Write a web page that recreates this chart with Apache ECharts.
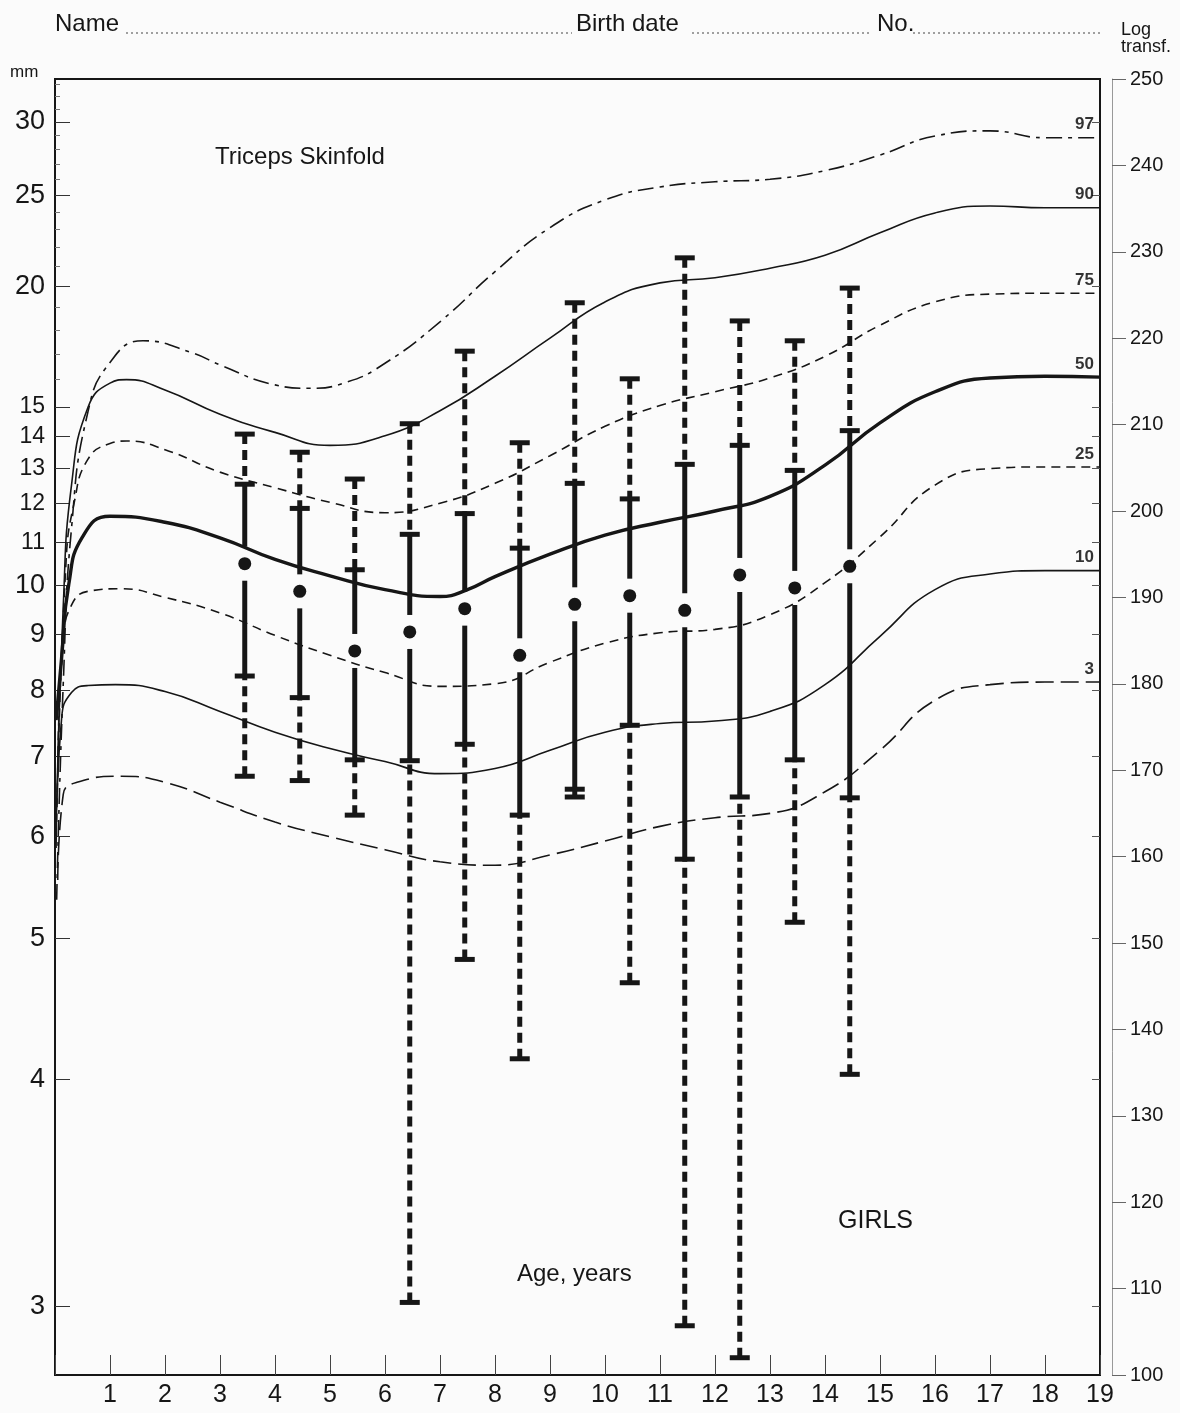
<!DOCTYPE html>
<html>
<head>
<meta charset="utf-8">
<script src="https://cdn.jsdelivr.net/npm/echarts@6.0.0/dist/echarts.min.js"></script>
<style>
  html, body { margin: 0; padding: 0; background: #fbfbfb; }
  #chart { width: 1180px; height: 1413px; }
</style>
</head>
<body>
<div id="chart"></div>
<script>
// ---- Data (values in "Log transf." units: 100 + 100*log10(mm - 1.8)) ----
const mmTicks = [3, 4, 5, 6, 7, 8, 9, 10, 11, 12, 13, 14, 15, 20, 25, 30];
const mmMinorTicks = [16, 17, 18, 19, 21, 22, 23, 24, 26, 27, 28, 29, 31, 32, 33];
const ageLabels = [1, 2, 3, 4, 5, 6, 7, 8, 9, 10, 11, 12, 13, 14, 15, 16, 17, 18, 19];
const pctNames = ['97', '90', '75', '50', '25', '10', '3'];

const p97 = [[0.03,155],[0.15,180],[0.3,198],[0.6,211.5],[1,217.2],[1.6,219.7],[2.5,218.3],[3,216.9],[4,214.6],[4.6,214.2],[5.3,214.9],[6,217.1],[7,221.9],[8,227.7],[9,232.8],[10,236],[11,237.5],[12,238.1],[13,238.4],[14,239.4],[15,241.2],[16,243.4],[17,244],[18,243.2],[19,243.2]];
const p90 = [[0.03,166],[0.15,189],[0.3,203],[0.6,212],[1,214.8],[1.3,215.2],[2,214],[3,211.2],[4,209.1],[5,207.6],[6,208.7],[7,211.6],[8,215.6],[9,220],[10,224.2],[11,226.4],[12,227],[13,228.1],[14,229.6],[15,232.2],[16,234.5],[17,235.3],[18,235.1],[19,235.1]];
const p75 = [[0.03,164],[0.2,194],[0.35,201],[0.6,206],[1,207.8],[1.3,208.1],[2,207.1],[3,204.5],[4,202.7],[5,201],[6,199.8],[7,200.9],[8,203.2],[9,206.4],[10,209.8],[11,212.2],[12,213.8],[13,215.4],[14,217.9],[15,221.5],[16,224.2],[17,225.1],[18,225.2],[19,225.2]];
const p50 = [[0.02,175.8],[0.12,183],[0.25,191.5],[0.5,197],[1,199.4],[2,198.7],[3,196.9],[4,194.4],[5,192.5],[6,190.9],[7,190.1],[7.5,190.9],[8,192.4],[9,195],[10,197.2],[11,198.7],[12,200],[13,201.7],[14,205.3],[15,210.2],[16,213.8],[17,215.4],[18,215.6],[19,215.5]];
const p25 = [[0.05,170],[0.15,185],[0.3,189.1],[0.6,190.7],[1.2,191],[2,190],[3,188.2],[4,185.6],[5,183.3],[6,181.3],[7,179.7],[8,180],[9,182.5],[10,184.7],[11,185.9],[12,186.3],[13,188],[14,191.7],[15,197],[16,203],[17,204.9],[18,205.1],[19,205.1]];
const p10 = [[0.02,161],[0.12,176],[0.3,179],[0.6,179.8],[1.1,179.9],[2,179.1],[3,176.8],[4,174.4],[5,172.5],[6,171],[7,169.6],[8,170.2],[9,172.3],[10,174.4],[11,175.4],[12,175.7],[13,176.8],[14,179.9],[15,185.5],[16,190.9],[17,192.7],[18,193.1],[19,193.1]];
const p3 = [[0.05,157.3],[0.15,167.2],[0.4,168.6],[1.2,169.3],[2,168.6],[3,166.3],[4,164],[5,162.3],[6,160.8],[7,159.4],[8,159],[9,160.2],[10,161.8],[11,163.5],[12,164.5],[13,165],[14,167.5],[15,172.3],[16,178.1],[17,179.9],[18,180.2],[19,180.2]];

const barAges   = [3.45, 4.45, 5.45, 6.45, 7.45, 8.45, 9.45, 10.45, 11.45, 12.45, 13.45, 14.45];
const outerHigh = [208.9, 206.8, 203.7, 210.1, 218.5, 207.9, 224.1, 215.3, 229.3, 222.0, 219.7, 225.8];
const innerHigh = [203.1, 200.3, 193.2, 197.3, 199.7, 195.7, 203.2, 201.4, 205.4, 207.6, 204.7, 209.3];
const centre    = [193.9, 190.7, 183.8, 186.0, 188.7, 183.3, 189.2, 190.2, 188.5, 192.6, 191.1, 193.6];
const innerLow  = [180.9, 178.4, 171.2, 171.1, 173.0, 164.8, 167.8, 175.2, 159.7, 166.9, 171.2, 166.8];
const outerLow  = [169.3, 168.8, 164.8, 108.4, 148.1, 136.6, 166.9, 145.4, 105.7, 102.0, 152.4, 134.8];

// ---- helpers ----
const toT = mm => 100 + 100 * Math.log10(mm - 1.8);
const toMM = t => 1.8 + Math.pow(10, (t - 100) / 100);
const FONT = '"Liberation Sans", Arial, Helvetica, sans-serif';
const INK = '#161616';

const curves = [p97, p90, p75, p50, p25, p10, p3];
const curveStyles = [
  { width: 1.6, dash: [16, 6, 4, 6] },
  { width: 1.6, dash: 'solid' },
  { width: 1.6, dash: [9, 6] },
  { width: 3.4, dash: 'solid' },
  { width: 1.6, dash: [9, 6] },
  { width: 1.6, dash: 'solid' },
  { width: 1.6, dash: [18, 7] }
];

const series = curves.map((c, i) => ({
  type: 'line',
  name: 'P' + pctNames[i],
  data: c,
  smooth: 0.5,
  showSymbol: false,
  symbol: 'none',
  lineStyle: { color: INK, width: curveStyles[i].width, type: curveStyles[i].dash },
  silent: true,
  z: 2
}));

series.push({
  type: 'scatter',
  name: 'labels',
  symbolSize: 0,
  data: curves.map((c, i) => [19, c[c.length - 1][1], pctNames[i]]),
  label: {
    show: true,
    position: 'left',
    distance: 6,
    offset: [0, -13],
    formatter: p => p.data[2],
    fontFamily: FONT,
    fontWeight: 'bold',
    fontSize: 17,
    color: '#000'
  },
  silent: true,
  z: 5
});

series.push({
  type: 'custom',
  name: 'ranges',
  data: barAges.map((a, i) => [a, outerHigh[i], innerHigh[i], centre[i], innerLow[i], outerLow[i]]),
  encode: { x: 0, y: [1, 2, 3, 4, 5] },
  z: 4,
  renderItem: function (params, api) {
    const age = api.value(0);
    const x = api.coord([age, api.value(1)])[0];
    const yy = k => api.coord([age, api.value(k)])[1];
    const yOT = yy(1), yIT = yy(2), yC = yy(3), yIB = yy(4), yOB = yy(5);
    const lw = 5, hw = 10, gap = 17;
    const dashed = { stroke: INK, lineWidth: lw, lineDash: [10, 6] };
    const solid = { stroke: INK, lineWidth: lw };
    const cap = y => ({ type: 'line', shape: { x1: x - hw, y1: y, x2: x + hw, y2: y }, style: { stroke: INK, lineWidth: 5 } });
    const children = [
      { type: 'line', shape: { x1: x, y1: yOT, x2: x, y2: yIT }, style: dashed },
      { type: 'line', shape: { x1: x, y1: yOB, x2: x, y2: yIB }, style: dashed },
      { type: 'line', shape: { x1: x, y1: yIT, x2: x, y2: Math.max(yIT, yC - gap) }, style: solid },
      { type: 'line', shape: { x1: x, y1: Math.min(yIB, yC + gap), x2: x, y2: yIB }, style: solid },
      cap(yOT), cap(yIT), cap(yIB), cap(yOB),
      { type: 'circle', shape: { cx: x, cy: yC, r: 6.5 }, style: { fill: INK } }
    ];
    return { type: 'group', children: children };
  }
});

const mmTickT = mmTicks.map(toT);
const mmMinorT = mmMinorTicks.map(toT);

const chart = echarts.init(document.getElementById('chart'), null, { renderer: 'canvas' });
chart.setOption({
  animation: false,
  backgroundColor: '#fbfbfb',
  grid: {
    left: 55, right: 80, top: 79, bottom: 38,
    show: true, borderColor: INK, borderWidth: 2, backgroundColor: 'transparent',
    containLabel: false, outerBoundsMode: 'none'
  },
  xAxis: {
    type: 'value', min: 0, max: 19, interval: 1,
    axisLine: { show: true, lineStyle: { color: INK, width: 2 } },
    axisTick: { show: true, inside: true, length: 20, lineStyle: { color: '#444', width: 1 } },
    axisLabel: {
      show: true, margin: 8, fontSize: 25, color: INK, fontFamily: FONT,
      customValues: ageLabels,
      formatter: v => String(Math.round(v))
    },
    splitLine: { show: false }
  },
  yAxis: [
    {
      type: 'value', position: 'left', min: 100, max: 250,
      axisLine: { show: true, lineStyle: { color: INK, width: 2 } },
      axisTick: { show: true, inside: true, length: 15, customValues: mmTickT, lineStyle: { color: '#333', width: 1 } },
      axisLabel: {
        show: true, margin: 10, fontSize: 27, color: INK, fontFamily: FONT,
        customValues: mmTickT,
        formatter: v => {
          const m = Math.round(toMM(v));
          return (m >= 11 && m <= 15) ? '{s|' + m + '}' : String(m);
        },
        rich: { s: { fontSize: 23, fontFamily: FONT, color: INK } }
      },
      splitLine: { show: false }
    },
    {
      type: 'value', position: 'left', min: 100, max: 250,
      axisLine: { show: false },
      axisTick: { show: true, inside: true, length: 5, customValues: mmMinorT, lineStyle: { color: '#777', width: 1 } },
      axisLabel: { show: false },
      splitLine: { show: false }
    },
    {
      type: 'value', position: 'right', min: 100, max: 250,
      axisLine: { show: false },
      axisTick: { show: true, inside: true, length: 8, customValues: mmTickT, lineStyle: { color: '#555', width: 1 } },
      axisLabel: { show: false },
      splitLine: { show: false }
    },
    {
      type: 'value', position: 'right', offset: 12, min: 100, max: 250, interval: 10,
      axisLine: { show: true, lineStyle: { color: '#999', width: 1 } },
      axisTick: { show: true, inside: false, length: 14, lineStyle: { color: '#666', width: 1 } },
      axisLabel: { show: true, margin: 18, fontSize: 20, color: INK, fontFamily: FONT },
      splitLine: { show: false }
    }
  ],
  series: series,
  graphic: [
    { type: 'text', left: 55, top: 12, style: { text: 'Name', fontSize: 24, fontFamily: FONT, fill: INK } },
    { type: 'line', shape: { x1: 126, y1: 33, x2: 572, y2: 33 }, style: { stroke: '#444', lineWidth: 1.2, lineDash: [2, 3] } },
    { type: 'text', left: 576, top: 12, style: { text: 'Birth date', fontSize: 24, fontFamily: FONT, fill: INK } },
    { type: 'line', shape: { x1: 692, y1: 33, x2: 870, y2: 33 }, style: { stroke: '#444', lineWidth: 1.2, lineDash: [2, 3] } },
    { type: 'text', left: 877, top: 12, style: { text: 'No.', fontSize: 24, fontFamily: FONT, fill: INK } },
    { type: 'line', shape: { x1: 913, y1: 33, x2: 1100, y2: 33 }, style: { stroke: '#444', lineWidth: 1.2, lineDash: [2, 3] } },
    { type: 'text', left: 1121, top: 21, style: { text: 'Log', fontSize: 18, fontFamily: FONT, fill: INK } },
    { type: 'text', left: 1121, top: 38, style: { text: 'transf.', fontSize: 18, fontFamily: FONT, fill: INK } },
    { type: 'text', left: 10, top: 64, style: { text: 'mm', fontSize: 17, fontFamily: FONT, fill: INK } },
    { type: 'text', left: 215, top: 145, style: { text: 'Triceps Skinfold', fontSize: 24, fontFamily: FONT, fill: INK } },
    { type: 'text', left: 517, top: 1262, style: { text: 'Age, years', fontSize: 24, fontFamily: FONT, fill: INK } },
    { type: 'text', left: 838, top: 1209, style: { text: 'GIRLS', fontSize: 25, fontFamily: FONT, fill: INK } }
  ]
});
</script>
</body>
</html>
